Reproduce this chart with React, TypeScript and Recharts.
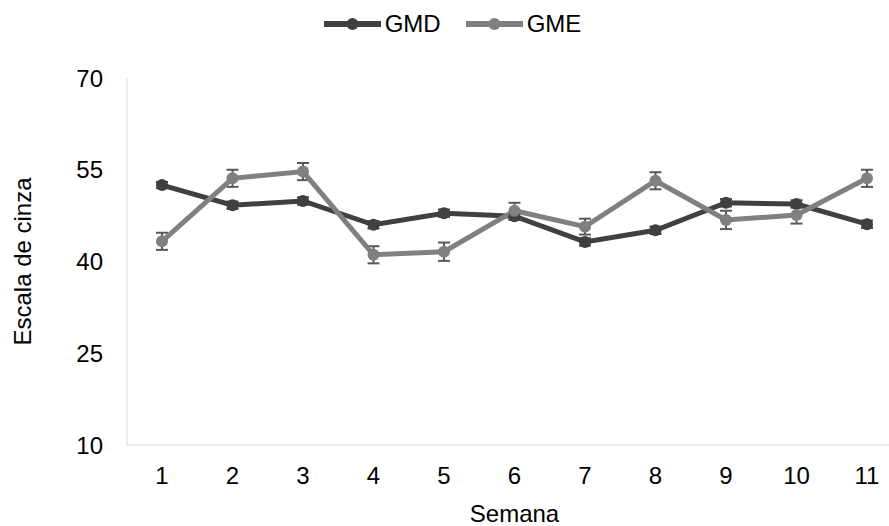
import React from 'react';
import {
  LineChart,
  Line,
  XAxis,
  YAxis,
  Legend,
  ErrorBar,
} from 'recharts';

const weeks = ['1', '2', '3', '4', '5', '6', '7', '8', '9', '10', '11'];
const gmd = [52.5, 49.2, 49.9, 46.0, 47.9, 47.4, 43.2, 45.1, 49.6, 49.4, 46.1];
const gmdErr = [0.5, 0.6, 0.6, 0.6, 0.6, 0.6, 0.6, 0.6, 0.6, 0.6, 0.6];
const gme = [43.3, 53.6, 54.7, 41.1, 41.6, 48.3, 45.7, 53.2, 46.8, 47.6, 53.6];
const gmeErr = [1.4, 1.4, 1.4, 1.4, 1.5, 1.3, 1.3, 1.4, 1.5, 1.4, 1.4];
const yTicks = [10, 25, 40, 55, 70];

const data = weeks.map((week, i) => ({
  week,
  GMD: gmd[i],
  gmdErr: gmdErr[i],
  GME: gme[i],
  gmeErr: gmeErr[i],
}));

const DARK = '#404040';
const GREY = '#808080';
const FONT = '"Liberation Sans", Arial, sans-serif';

const legendItems = [
  { name: 'GMD', color: DARK },
  { name: 'GME', color: GREY },
];

const LegendContent = () => (
  <div
    style={{
      display: 'flex',
      justifyContent: 'center',
      alignItems: 'center',
      height: 40,
      fontFamily: FONT,
      fontSize: 24,
      color: '#000',
    }}
  >
    {legendItems.map((item, i) => (
      <div
        key={item.name}
        style={{ display: 'flex', alignItems: 'center', marginLeft: i ? 25 : 0 }}
      >
        <svg width={57} height={14} style={{ marginRight: 4 }}>
          <line x1={0} y1={7} x2={57} y2={7} stroke={item.color} strokeWidth={6} />
          <circle cx={28.5} cy={7} r={6} fill={item.color} />
        </svg>
        <span>{item.name}</span>
      </div>
    ))}
  </div>
);

export default function App() {
  return (
    <div
      style={{
        position: 'fixed',
        left: 0,
        top: 0,
        width: 889,
        height: 526,
        overflow: 'hidden',
        background: '#fff',
        fontFamily: FONT,
      }}
    >
      <LineChart
        width={905}
        height={526}
        data={data}
        margin={{ top: 38, right: 3, bottom: 0, left: 0 }}
      >
        <Legend
          verticalAlign="top"
          content={<LegendContent />}
          wrapperStyle={{ top: 4, left: 0, width: 905 }}
        />
        <XAxis
          dataKey="week"
          height={81}
          padding={{ left: 35, right: 35 }}
          tickLine={false}
          tickSize={0}
          tickMargin={22}
          stroke="#d9d9d9"
          tick={{ fill: '#000', fontSize: 24, fontFamily: FONT }}
          label={{
            value: 'Semana',
            position: 'insideBottom',
            offset: 4,
            fill: '#000',
            fontSize: 24,
            fontFamily: FONT,
          }}
        />
        <YAxis
          width={127}
          domain={[10, 70]}
          ticks={yTicks}
          interval={0}
          tickLine={false}
          tickSize={0}
          tickMargin={24}
          stroke="#d9d9d9"
          tick={{ fill: '#000', fontSize: 24, fontFamily: FONT }}
          label={{
            value: 'Escala de cinza',
            angle: -90,
            position: 'insideLeft',
            offset: 22,
            fill: '#000',
            fontSize: 24,
            fontFamily: FONT,
            style: { textAnchor: 'middle' },
          }}
        />
        <Line
          dataKey="GMD"
          stroke={DARK}
          strokeWidth={5}
          dot={{ r: 6, fill: DARK, stroke: 'none' }}
          activeDot={false}
          isAnimationActive={false}
        >
          <ErrorBar
            dataKey="gmdErr"
            direction="y"
            width={6}
            strokeWidth={2}
            stroke={DARK}
            isAnimationActive={false}
          />
        </Line>
        <Line
          dataKey="GME"
          stroke={GREY}
          strokeWidth={5}
          dot={{ r: 6, fill: GREY, stroke: 'none' }}
          activeDot={false}
          isAnimationActive={false}
        >
          <ErrorBar
            dataKey="gmeErr"
            direction="y"
            width={6}
            strokeWidth={2}
            stroke="#595959"
            isAnimationActive={false}
          />
        </Line>
      </LineChart>
    </div>
  );
}
